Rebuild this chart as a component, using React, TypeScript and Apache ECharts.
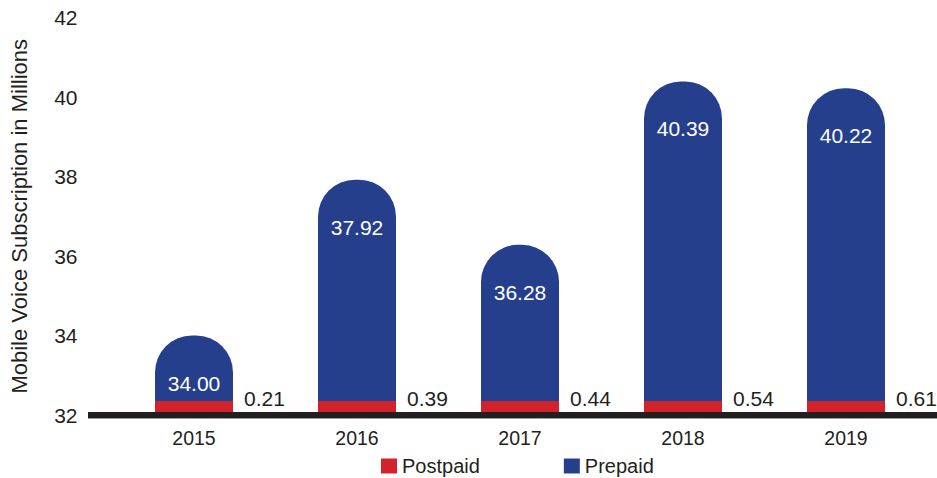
import React, { useEffect, useRef } from "react";
import * as echarts from "echarts";

const categories = ["2015", "2016", "2017", "2018", "2019"];
const prepaid = [34.0, 37.92, 36.28, 40.39, 40.22];
const postpaid = [0.21, 0.39, 0.44, 0.54, 0.61];
const yMin = 32;
const yMax = 42;
const yInterval = 2;

const BLUE = "#253F8D";
const RED = "#D2232A";
const TEXT = "#231F20";
const FONT = "'Liberation Sans', Arial, sans-serif";

export default function App() {
  const ref = useRef<HTMLDivElement>(null);
  useEffect(() => {
    document.body.style.margin = "0";
    if (!ref.current) return;
    const chart = echarts.init(ref.current, null, { renderer: "svg" });
    const barW = 78;
    chart.setOption({
      animation: false,
      textStyle: { fontFamily: FONT },
      grid: { left: 112.5, right: 9.5, top: 17.5, bottom: 63, containLabel: false },
      legend: {
        left: 376,
        top: 451,
        itemWidth: 16,
        itemHeight: 15,
        itemGap: 84,
        itemStyle: { borderWidth: 0 },
        textStyle: { fontSize: 20, color: TEXT, fontFamily: FONT },
        data: [
          { name: "Postpaid", icon: "rect" },
          { name: "Prepaid", icon: "rect" },
        ],
      },
      xAxis: {
        type: "category",
        data: categories,
        axisLine: { show: false },
        axisTick: { show: false },
        axisLabel: { color: TEXT, fontSize: 19.5, margin: 13, fontFamily: FONT },
      },
      yAxis: {
        type: "value",
        min: yMin,
        max: yMax,
        interval: yInterval,
        name: "Mobile Voice Subscription in Millions",
        nameLocation: "middle",
        nameGap: 82,
        nameTextStyle: { fontSize: 22, color: TEXT, fontFamily: FONT },
        axisLine: { show: false },
        axisTick: { show: false },
        splitLine: { show: false },
        axisLabel: { color: TEXT, fontSize: 21, margin: 35, fontFamily: FONT },
      },
      graphic: [
        {
          type: "line",
          z: 100,
          shape: { x1: 88, y1: 415, x2: 937, y2: 415 },
          style: { stroke: TEXT, lineWidth: 6 },
        },
        {
          type: "line",
          z: 100,
          shape: { x1: 88, y1: 418.5, x2: 937, y2: 418.5 },
          style: { stroke: "#9a9a9a", lineWidth: 1 },
        },
      ],
      series: [
        {
          name: "Prepaid",
          type: "bar",
          data: prepaid,
          barWidth: barW,
          z: 2,
          itemStyle: { color: BLUE, borderRadius: [37, 37, 0, 0] },
          label: {
            show: true,
            position: "insideTop",
            distance: 37,
            color: "#ffffff",
            fontSize: 21,
            fontFamily: FONT,
            formatter: (p: any) => Number(p.value).toFixed(2),
          },
        },
        {
          name: "Postpaid",
          type: "custom",
          z: 5,
          itemStyle: { color: RED },
          encode: { x: 0, y: 1 },
          data: postpaid.map((v, i) => [i, v]),
          renderItem: (params: any, api: any) => {
            const idx = api.value(0);
            const val = api.value(1);
            const base = api.coord([idx, yMin]);
            const h = 14;
            return {
              type: "group",
              children: [
                {
                  type: "rect",
                  shape: { x: base[0] - barW / 2, y: base[1] - h, width: barW, height: h },
                  style: { fill: RED },
                },
                {
                  type: "text",
                  x: base[0] + barW / 2 + 11,
                  y: base[1] - 17,
                  style: {
                    text: Number(val).toFixed(2),
                    fill: TEXT,
                    fontSize: 21,
                    fontFamily: FONT,
                    align: "left",
                    verticalAlign: "middle",
                  },
                },
              ],
            };
          },
        },
      ],
    });
    return () => chart.dispose();
  }, []);
  return <div ref={ref} style={{ width: 937, height: 478 }} />;
}
